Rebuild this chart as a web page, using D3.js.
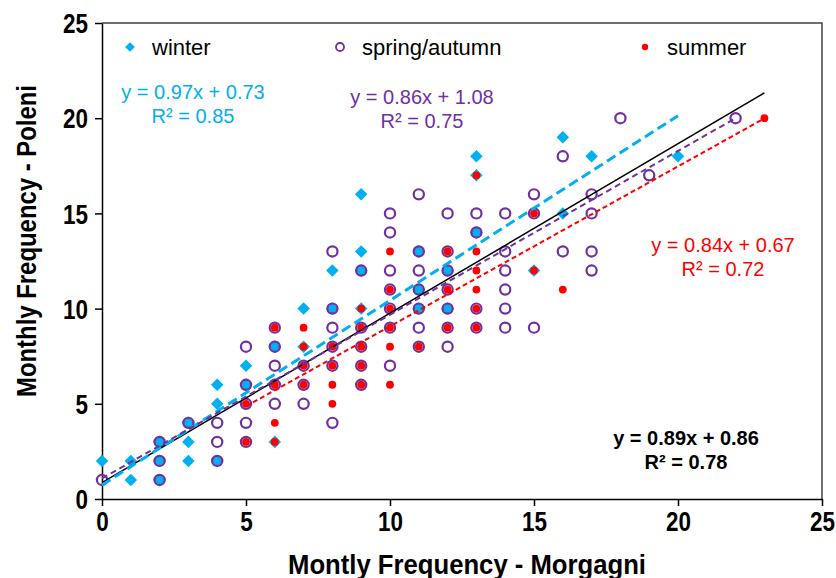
<!DOCTYPE html>
<html>
<head>
<meta charset="utf-8">
<script src="https://cdn.jsdelivr.net/npm/d3@7"></script>
<style>
  body { margin: 0; background: #fff; }
  svg { display: block; }
  .tick text { font-family: "Liberation Sans", Arial, sans-serif; font-weight: bold; }
</style>
</head>
<body>
<script>
// series: [Morgagni, Poleni] monthly frequencies
var winter = [[0,2],[1,2],[1,1],[2,1],[2,2],[2,3],[3,2],[3,3],[3,4],[4,2],[4,5],[4,6],
  [5,6],[5,7],[6,3],[6,8],[7,8],[7,10],[8,10],[8,12],[9,10],[9,12],[9,13],[9,16],
  [11,10],[11,11],[11,13],[12,10],[12,12],[13,14],[13,17],[13,18],[15,12],[16,15],
  [16,19],[17,18],[20,18]];

var spring = [[0,1],[2,1],[2,2],[2,3],[3,4],[4,2],[4,3],[4,4],[5,3],[5,4],[5,5],[5,6],
  [5,8],[6,5],[6,6],[6,7],[6,8],[6,9],[7,5],[7,6],[7,7],[8,4],[8,7],[8,8],[8,9],[8,10],
  [8,13],[9,6],[9,7],[9,8],[9,9],[9,12],[10,7],[10,9],[10,10],[10,11],[10,12],[10,14],
  [10,15],[11,8],[11,9],[11,10],[11,11],[11,12],[11,13],[11,16],[12,8],[12,9],[12,10],
  [12,11],[12,12],[12,13],[12,15],[13,9],[13,10],[13,14],[13,15],[14,9],[14,10],[14,11],
  [14,12],[14,13],[14,15],[15,9],[15,15],[15,16],[16,13],[16,18],[17,12],[17,13],[17,15],
  [17,16],[18,20],[19,17],[22,20]];

var summer = [[5,3],[5,5],[6,3],[6,4],[6,6],[6,9],[7,6],[7,7],[7,8],[7,9],[8,5],[8,6],
  [8,7],[8,8],[9,6],[9,7],[9,8],[9,9],[9,10],[10,6],[10,8],[10,9],[10,10],[10,11],
  [10,13],[11,8],[12,9],[12,11],[12,13],[13,9],[13,10],[13,11],[13,12],[13,13],[13,17],
  [15,12],[15,15],[16,11],[23,20]];

var seriesNames = ["winter", "spring/autumn", "summer"];
var fitSlope = [0.97, 0.86, 0.84, 0.89];
var fitIntercept = [0.73, 1.08, 0.67, 0.86];
var fitR2 = ["0.85", "0.75", "0.72", "0.78"];
var xTicks = [0, 5, 10, 15, 20, 25];
var yTicks = [0, 5, 10, 15, 20, 25];

var colors = ["#00b0f0", "#7030a0", "#ff0000", "#000000"];

var W = 836, H = 578;
var margin = {top: 23, right: 14, bottom: 79, left: 102},
    width = W - margin.left - margin.right,
    height = H - margin.top - margin.bottom;

var x = d3.scaleLinear().domain([0, 25]).range([0, width]);
var y = d3.scaleLinear().domain([0, 25]).range([height, 0]);

var svg = d3.select("body").append("svg")
    .attr("width", W)
    .attr("height", H)
  .append("g")
    .attr("transform", "translate(" + margin.left + "," + margin.top + ")");

// frame (top and right)
svg.append("path")
    .attr("d", "M0,0H" + width + "V" + height)
    .attr("fill", "none")
    .attr("stroke", "#404040")
    .attr("stroke-width", 1.5);

// axes
var xAxis = svg.append("g")
    .attr("transform", "translate(0," + height + ")")
    .call(d3.axisBottom(x).tickValues(xTicks).tickSize(7).tickSizeOuter(0).tickPadding(6));
var yAxis = svg.append("g")
    .call(d3.axisLeft(y).tickValues(yTicks).tickSize(7).tickSizeOuter(0).tickPadding(7));
[xAxis, yAxis].forEach(function(a) {
  a.select(".domain").attr("stroke", "#000").attr("stroke-width", 1.5);
  a.selectAll(".tick line").attr("stroke", "#000").attr("stroke-width", 1.5);
  a.selectAll(".tick text").attr("font-size", 27).attr("fill", "#000")
      .attr("textLength", function(d) { return String(d).length * 12.5; })
      .attr("lengthAdjust", "spacingAndGlyphs");
});
yAxis.selectAll(".tick text").attr("dy", "0.36em");

// axis titles
svg.append("text")
    .attr("transform", "rotate(-90)")
    .attr("x", -(241 - margin.top))
    .attr("y", 27 - margin.left)
    .attr("dy", "0.35em")
    .attr("text-anchor", "middle")
    .attr("textLength", 312)
    .attr("lengthAdjust", "spacingAndGlyphs")
    .style("font-family", "'Liberation Sans', Arial, sans-serif")
    .style("font-weight", "bold")
    .style("font-size", "27px")
    .text("Monthly Frequency - Poleni");

svg.append("text")
    .attr("x", 467 - margin.left)
    .attr("y", 574 - margin.top)
    .attr("text-anchor", "middle")
    .attr("textLength", 358)
    .attr("lengthAdjust", "spacingAndGlyphs")
    .style("font-family", "'Liberation Sans', Arial, sans-serif")
    .style("font-weight", "bold")
    .style("font-size", "27px")
    .text("Montly Frequency - Morgagni");

// marker drawing
var diamond = d3.symbol().type(d3.symbolDiamond2);
function drawWinter(g, data, s) {
  g.selectAll("path.w").data(data).enter().append("path")
      .attr("class", "w")
      .attr("d", diamond.size(s)())
      .attr("transform", function(d) { return "translate(" + x(d[0]) + "," + y(d[1]) + ")"; })
      .attr("fill", colors[0]);
}
function drawSpring(g, data, r) {
  g.selectAll("circle.s").data(data).enter().append("circle")
      .attr("class", "s")
      .attr("cx", function(d) { return x(d[0]); })
      .attr("cy", function(d) { return y(d[1]); })
      .attr("r", r)
      .attr("fill", "none")
      .attr("stroke", colors[1])
      .attr("stroke-width", 2.2);
}
function drawSummer(g, data, r) {
  g.selectAll("circle.u").data(data).enter().append("circle")
      .attr("class", "u")
      .attr("cx", function(d) { return x(d[0]); })
      .attr("cy", function(d) { return y(d[1]); })
      .attr("r", r)
      .attr("fill", colors[2]);
}

var pts = svg.append("g");
drawWinter(pts, winter, 100);
drawSpring(pts, spring, 5.1);
drawSummer(pts, summer, 3.9);

// trend lines
var allPts = winter.concat(spring, summer);
var ranges = [d3.extent(winter, function(d) { return d[0]; }),
              d3.extent(spring, function(d) { return d[0]; }),
              d3.extent(summer, function(d) { return d[0]; }),
              d3.extent(allPts, function(d) { return d[0]; })];
var dashes = ["10,5", "6,4", "5,3", null];
var widths = [3, 2, 2, 1.5];
var line = d3.line().x(function(d) { return x(d[0]); }).y(function(d) { return y(d[1]); });
[3, 0, 1, 2].forEach(function(i) {
  var pts2 = ranges[i].map(function(v) { return [v, fitSlope[i] * v + fitIntercept[i]]; });
  svg.append("path")
      .attr("d", line(pts2))
      .attr("fill", "none")
      .attr("stroke", colors[i])
      .attr("stroke-width", widths[i])
      .attr("stroke-dasharray", dashes[i]);
});

// equation labels
var eqPos = [[193, 99], [422, 104], [723, 252], [686, 445]];
fitSlope.forEach(function(s, i) {
  var t = svg.append("text")
      .attr("text-anchor", "middle")
      .attr("fill", colors[i])
      .style("font-family", "'Liberation Sans', Arial, sans-serif")
      .style("font-size", "20px")
      .style("font-weight", i === 3 ? "bold" : "normal");
  t.append("tspan")
      .attr("x", eqPos[i][0] - margin.left)
      .attr("y", eqPos[i][1] - margin.top)
      .text("y = " + s.toFixed(2) + "x + " + fitIntercept[i].toFixed(2));
  t.append("tspan")
      .attr("x", eqPos[i][0] - margin.left)
      .attr("y", eqPos[i][1] - margin.top + 24)
      .text("R² = " + fitR2[i]);
});

// legend
var legX = [130, 340, 645];
var leg = svg.append("g").attr("transform", "translate(0," + (47 - margin.top) + ")");
seriesNames.forEach(function(n, i) {
  var cx = legX[i] - margin.left;
  if (i === 0) {
    leg.append("path").attr("d", diamond.size(60)()).attr("transform", "translate(" + cx + ",0)").attr("fill", colors[0]);
  } else if (i === 1) {
    leg.append("circle").attr("cx", cx).attr("cy", 0).attr("r", 4).attr("fill", "none").attr("stroke", colors[1]).attr("stroke-width", 1.8);
  } else {
    leg.append("circle").attr("cx", cx).attr("cy", 0).attr("r", 3.2).attr("fill", colors[2]);
  }
  leg.append("text")
      .attr("x", cx + 22)
      .attr("y", 0)
      .attr("dy", "0.36em")
      .style("font-family", "'Liberation Sans', Arial, sans-serif")
      .style("font-size", "22px")
      .text(n);
});
</script>
</body>
</html>
